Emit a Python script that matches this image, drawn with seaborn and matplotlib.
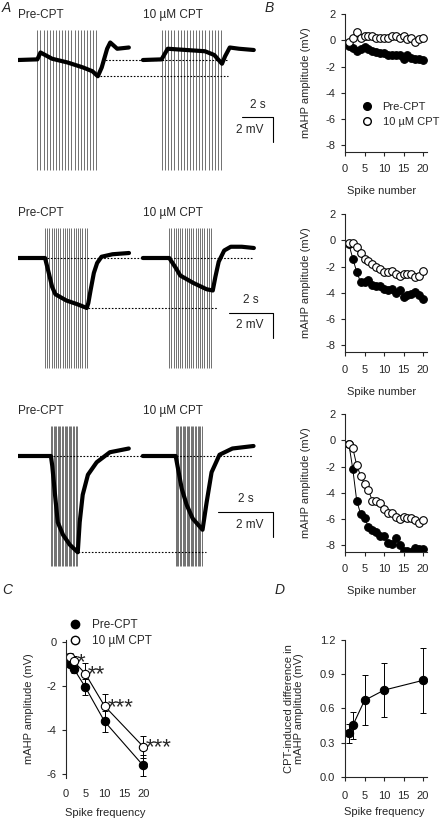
import numpy as np
import pandas as pd
import seaborn as sns
import matplotlib.pyplot as plt
from matplotlib.lines import Line2D

# ---------------- data ----------------
# Panel A: stimulus trains (Hz) and membrane traces (time s, mV)
train_freq = [5, 10, 20]
n_spikes = 20
pre_onset = [1.25, 1.23, 1.2]
cpt_onset = [1.23, 1.2, 1.2]

pre_t = [
    [0, 1.25, 1.45, 2.2, 3.2, 4.2, 4.8, 5.15, 5.4, 5.75, 5.95, 6.4, 7.15],
    [0, 1.23, 1.4, 1.55, 1.7, 2.2, 2.7, 3.13, 3.2, 3.3, 3.45, 3.6, 3.8, 4.3, 5.05],
    [0, 1.2, 1.25, 1.35, 1.45, 1.64, 1.89, 2.18, 2.25, 2.36, 2.55, 2.87, 3.35, 4.04],
]
pre_v = [
    [0, 0.05, 0.6, 0.1, -0.2, -0.6, -0.9, -1.3, -0.6, 0.9, 1.4, 0.9, 1.0],
    [0, 0, -1.2, -2.3, -2.9, -3.4, -3.7, -4.0, -3.6, -2.6, -1.2, -0.4, 0.1, 0.3, 0.4],
    [0, 0, -0.8, -3.1, -5.3, -6.3, -7.1, -7.7, -5.3, -3.1, -1.5, -0.5, 0.3, 0.6],
]
cpt_t = [
    [0, 1.2, 1.6, 2.8, 4.0, 4.6, 5.1, 5.3, 5.6, 6.2, 7.15],
    [0, 1.2, 1.5, 1.7, 2.3, 2.9, 3.18, 3.3, 3.45, 3.7, 4.0, 4.5, 5.05],
    [0, 1.2, 1.42, 1.6, 1.82, 2.18, 2.33, 2.51, 2.8, 3.27, 4.04],
]
cpt_v = [
    [0, 0.05, 0.9, 0.8, 0.7, 0.4, -0.3, 0.3, 1.0, 0.9, 0.8],
    [0, 0, -0.8, -1.4, -2.0, -2.5, -2.6, -1.5, -0.3, 0.6, 0.9, 0.9, 0.8],
    [0, 0, -2.6, -3.9, -5.0, -5.9, -3.7, -1.3, 0.1, 0.6, 0.8],
]

# Panel B: mAHP amplitude (mV) per spike number
spike_no = list(range(1, 21))
b_pre = [
    [-0.4, -0.6, -0.85, -0.7, -0.5, -0.7, -0.8, -0.9, -0.95, -1.0,
     -1.15, -1.15, -1.1, -1.1, -1.4, -1.1, -1.35, -1.45, -1.45, -1.5],
    [-0.3, -1.4, -2.4, -3.2, -3.2, -3.0, -3.4, -3.5, -3.5, -3.7,
     -3.8, -3.7, -4.0, -3.8, -4.3, -4.2, -4.1, -3.9, -4.2, -4.5],
    [-0.3, -2.2, -4.6, -5.6, -5.9, -6.6, -6.8, -7.0, -7.3, -7.3,
     -7.8, -7.9, -7.4, -8.0, -8.4, -8.4, -8.5, -8.2, -8.3, -8.3],
]
b_cpt = [
    [-0.1, 0.2, 0.6, 0.2, 0.3, 0.35, 0.3, 0.2, 0.2, 0.2,
     0.2, 0.3, 0.3, 0.2, 0.3, 0.1, 0.2, -0.1, 0.1, 0.2],
    [-0.2, -0.2, -0.5, -1.0, -1.4, -1.6, -1.8, -2.0, -2.2, -2.4,
     -2.4, -2.3, -2.6, -2.7, -2.6, -2.6, -2.6, -2.8, -2.7, -2.3],
    [-0.3, -0.6, -1.9, -2.7, -3.3, -3.8, -4.6, -4.6, -4.8, -5.2,
     -5.5, -5.5, -5.8, -6.0, -5.8, -5.9, -5.9, -6.1, -6.3, -6.1],
]

# Panels C and D: mean +- SEM vs spike frequency
spike_freq = [1, 2, 5, 10, 20]
c_pre = [-0.97, -1.2, -2.04, -3.6, -5.6]
c_pre_err = [0.15, 0.22, 0.38, 0.47, 0.46]
c_cpt = [-0.65, -0.87, -1.43, -2.9, -4.74]
c_cpt_err = [0.15, 0.25, 0.48, 0.55, 0.5]
c_stars = ["", "*", "**", "***", "***"]
d_diff = [0.38, 0.45, 0.67, 0.76, 0.846]
d_err = [0.08, 0.12, 0.22, 0.24, 0.285]

# ---------------- style ----------------
sns.set_theme(style="ticks")
plt.rcParams["font.family"] = ["Liberation Sans", "DejaVu Sans"]
plt.rcParams["axes.unicode_minus"] = False
plt.rcParams["axes.linewidth"] = 0.8
FS = 8

W, H = 447, 821
fig = plt.figure(figsize=(W / 100, H / 100), dpi=100)


def box(left, top, right, bottom):
    return [left / W, 1 - bottom / H, (right - left) / W, (bottom - top) / H]


def ftext(x, y, s, **kw):
    fig.text(x / W, 1 - y / H, s, **kw)


# ---------------- panel A ----------------
row_span = [16.45, 11.6, 9.3]      # seconds shown per row
cpt_shift = [8.06, 5.68, 4.55]     # where the CPT trace starts
row_top = [25, 223, 421]
bar_y = [-4.6, -4.4, -4.5]
dot_upper = [(5.4, 13.55), (1.3, 10.7), (1.28, 8.55)]
dot_lower = [(5.3, 13.55), (3.2, 9.03), (2.19, 6.86)]

for i in range(3):
    ax = fig.add_axes(box(18, row_top[i], 273, row_top[i] + 150))
    ax.set_xlim(0, row_span[i])
    ax.set_ylim(-9.2, 2.8)
    ax.axis("off")
    for onset, shift in [(pre_onset[i], 0), (cpt_onset[i], cpt_shift[i])]:
        times = shift + onset + np.arange(n_spikes) / train_freq[i]
        ax.vlines(times, -8.8, 2.4, color="0.35", lw=0.6)
    sns.lineplot(x=pre_t[i], y=pre_v[i], ax=ax, color="black", lw=3.0, sort=False)
    sns.lineplot(x=np.array(cpt_t[i]) + cpt_shift[i], y=cpt_v[i], ax=ax,
                 color="black", lw=3.0, sort=False)
    ax.plot(dot_upper[i], [0, 0], ls=(0, (1.5, 1.5)), color="black", lw=0.8)
    lo = min(pre_v[i])
    ax.plot(dot_lower[i], [lo, lo], ls=(0, (1.5, 1.5)), color="black", lw=0.8)
    # scale bar
    xe = row_span[i]
    ax.plot([xe - 2, xe, xe], [bar_y[i], bar_y[i], bar_y[i] - 2], color="black",
            lw=0.8, clip_on=False)
    ax.annotate("2 s", (xe - 1, bar_y[i]), xytext=(0, 5), textcoords="offset points",
                ha="center", va="bottom", fontsize=8.5)
    ax.annotate("2 mV", (xe, bar_y[i] - 1), xytext=(-7, 0), textcoords="offset points",
                ha="right", va="center", fontsize=8.5)
    ftext(18, row_top[i] - 10, "Pre-CPT", ha="left", va="center", fontsize=8.5)
    ftext(143, row_top[i] - 10, "10 \u00b5M CPT", ha="left", va="center", fontsize=8.5)

# ---------------- panel B ----------------
b_top = [14, 214, 414]
for i in range(3):
    ax = fig.add_axes(box(345, b_top[i], 427, b_top[i] + 138))
    sns.lineplot(x=spike_no, y=b_pre[i], ax=ax, color="black", lw=0.7, marker="o",
                 markersize=5.5, markerfacecolor="black", markeredgecolor="black",
                 markeredgewidth=0.8)
    sns.lineplot(x=spike_no, y=b_cpt[i], ax=ax, color="black", lw=0.7, marker="o",
                 markersize=5.5, markerfacecolor="white", markeredgecolor="black",
                 markeredgewidth=0.8)
    ax.set_xlim(0, 21)
    ax.set_ylim(-8.5, 2)
    ax.set_xticks([0, 5, 10, 15, 20])
    ax.set_yticks([2, 0, -2, -4, -6, -8])
    ax.tick_params(labelsize=FS, length=3, width=0.8)
    ax.tick_params(axis="x", pad=6)
    ax.tick_params(axis="y", pad=4)
    sns.despine(ax=ax)
    ax.set_xlabel("Spike number", fontsize=FS)
    ax.set_ylabel("mAHP amplitude (mV)", fontsize=FS)
    ax.xaxis.set_label_coords(0.45, -0.25)
    ax.yaxis.set_label_coords(-0.42, 0.5)
    if i == 0:
        handles = [
            Line2D([], [], ls="none", marker="o", ms=5.5, mfc="black", mec="black"),
            Line2D([], [], ls="none", marker="o", ms=5.5, mfc="white", mec="black"),
        ]
        ax.legend(handles, ["Pre-CPT", "10 \u00b5M CPT"], loc="upper left",
                  bbox_to_anchor=(0.2, 0.36), frameon=False, fontsize=FS,
                  handlelength=1.0, handletextpad=0.9, labelspacing=0.45,
                  borderaxespad=0, borderpad=0)

# ---------------- panel C ----------------
axc = fig.add_axes(box(66, 640, 147, 777.6))
for vals, errs, face in [(c_pre, c_pre_err, "black"), (c_cpt, c_cpt_err, "white")]:
    axc.errorbar(spike_freq, vals, yerr=errs, fmt="none", ecolor="black",
                 elinewidth=0.7, capsize=2, capthick=0.7)
    sns.lineplot(x=spike_freq, y=vals, ax=axc, color="black", lw=0.8, marker="o",
                 markersize=6, markerfacecolor=face, markeredgecolor="black",
                 markeredgewidth=0.8)
for xv, yv, s in zip(spike_freq, c_cpt, c_stars):
    if s:
        axc.annotate(s, (xv, yv), xytext=(2, -1), textcoords="offset points",
                     ha="left", va="center", fontsize=16)
axc.set_xlim(0, 21)
axc.set_ylim(-6.15, 0.1)
axc.set_xticks([0, 5, 10, 15, 20])
axc.set_yticks([0, -2, -4, -6])
axc.tick_params(labelsize=FS, width=0.8)
axc.tick_params(axis="x", length=0, pad=8)
axc.tick_params(axis="y", length=3, pad=4)
sns.despine(ax=axc, bottom=True)
axc.set_xlabel("Spike frequency", fontsize=FS)
axc.set_ylabel("mAHP amplitude (mV)", fontsize=FS)
axc.xaxis.set_label_coords(0.48, -0.22)
axc.yaxis.set_label_coords(-0.4, 0.5)
handles = [
    Line2D([], [], ls="none", marker="o", ms=6, mfc="black", mec="black"),
    Line2D([], [], ls="none", marker="o", ms=6, mfc="white", mec="black"),
]
axc.legend(handles, ["Pre-CPT", "10 \u00b5M CPT"], loc="lower left",
           bbox_to_anchor=(0.04, 0.95), frameon=False, fontsize=8.5,
           handlelength=1.0, handletextpad=0.9, labelspacing=0.3,
           borderaxespad=0, borderpad=0)

# ---------------- panel D ----------------
axd = fig.add_axes(box(345, 640, 427, 776.7))
axd.errorbar(spike_freq, d_diff, yerr=d_err, fmt="none", ecolor="black",
             elinewidth=0.7, capsize=2, capthick=0.7)
sns.lineplot(x=spike_freq, y=d_diff, ax=axd, color="black", lw=0.8, marker="o",
             markersize=6, markerfacecolor="black", markeredgecolor="black")
axd.set_xlim(0, 21)
axd.set_ylim(0, 1.2)
axd.set_xticks([0, 5, 10, 15, 20])
axd.set_yticks([0, 0.3, 0.6, 0.9, 1.2])
axd.set_yticklabels(["0.0", "0.3", "0.6", "0.9", "1.2"])
axd.tick_params(labelsize=FS, length=3, width=0.8)
axd.tick_params(axis="x", pad=7)
axd.tick_params(axis="y", pad=4)
sns.despine(ax=axd)
axd.set_xlabel("Spike frequency", fontsize=FS)
axd.set_ylabel("CPT-induced difference in\nmAHP amplitude (mV)", fontsize=FS,
               linespacing=1.0)
axd.xaxis.set_label_coords(0.476, -0.225)
axd.yaxis.set_label_coords(-0.5, 0.5)

# panel letters
for s, x, y in [("A", 2, 8), ("B", 265, 8), ("C", 2, 590), ("D", 275, 590)]:
    ftext(x, y, s, ha="left", va="center", fontsize=10, style="italic")

fig.savefig("out.png", dpi=100)
